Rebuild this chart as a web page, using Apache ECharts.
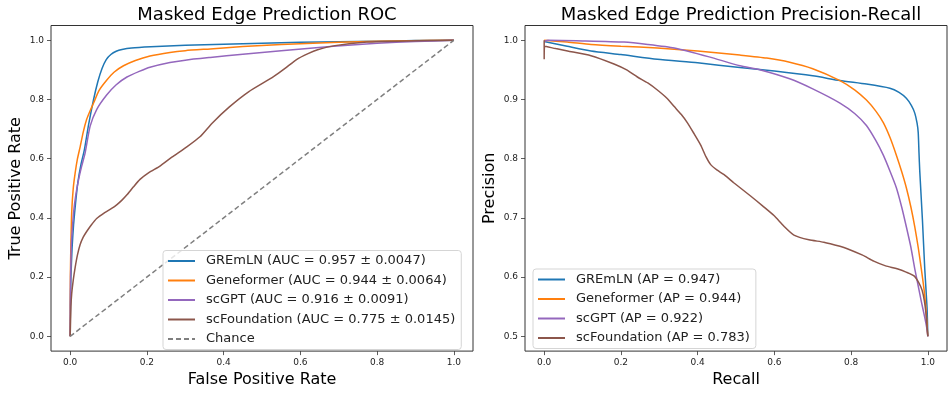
<!DOCTYPE html>
<html>
<head>
<meta charset="utf-8">
<title>Masked Edge Prediction</title>
<script src="https://cdn.jsdelivr.net/npm/echarts@6/dist/echarts.min.js"></script>
<style>
  html, body { margin: 0; padding: 0; background: #fff; }
  #chart { width: 948px; height: 393px; }
</style>
</head>
<body>
<div id="chart"></div>
<script>
// ROC curves, [false positive rate, true positive rate]
const gremlnRoc = [[0,0],[0.0005,0.1],[0.002,0.2],[0.005,0.3],[0.009,0.38],[0.014,0.45],[0.02,0.52],[0.028,0.58],[0.037,0.63],[0.048,0.715],[0.061,0.8],[0.072,0.86],[0.083,0.905],[0.094,0.935],[0.106,0.952],[0.12,0.963],[0.135,0.969],[0.16,0.974],[0.21,0.978],[0.3,0.983],[0.4,0.987],[0.5,0.99],[0.6,0.993],[0.7,0.995],[0.8,0.997],[0.9,0.999],[1,1]];
const geneformerRoc = [[0,0],[0.0005,0.2],[0.002,0.32],[0.004,0.42],[0.008,0.5],[0.013,0.552],[0.019,0.6],[0.026,0.64],[0.034,0.69],[0.043,0.733],[0.052,0.762],[0.061,0.788],[0.075,0.83],[0.095,0.865],[0.115,0.893],[0.139,0.914],[0.17,0.932],[0.208,0.947],[0.26,0.959],[0.3,0.965],[0.365,0.971],[0.45,0.979],[0.55,0.986],[0.65,0.991],[0.75,0.995],[0.85,0.998],[1,1]];
const scgptRoc = [[0,0],[0.0005,0.15],[0.001,0.2],[0.003,0.31],[0.006,0.37],[0.009,0.42],[0.015,0.48],[0.022,0.53],[0.03,0.575],[0.039,0.62],[0.052,0.71],[0.069,0.766],[0.095,0.815],[0.12,0.85],[0.148,0.876],[0.18,0.895],[0.208,0.909],[0.26,0.925],[0.3,0.933],[0.365,0.942],[0.45,0.953],[0.55,0.965],[0.686,0.98],[0.8,0.99],[0.9,0.996],[1,1]];
const scfoundationRoc = [[0,0],[0.002,0.1],[0.004,0.145],[0.008,0.19],[0.013,0.233],[0.019,0.275],[0.026,0.31],[0.034,0.335],[0.043,0.354],[0.055,0.376],[0.069,0.398],[0.09,0.418],[0.108,0.432],[0.122,0.445],[0.135,0.46],[0.148,0.478],[0.165,0.505],[0.182,0.53],[0.205,0.553],[0.234,0.575],[0.265,0.605],[0.304,0.64],[0.339,0.675],[0.37,0.72],[0.415,0.775],[0.465,0.826],[0.53,0.877],[0.56,0.905],[0.59,0.935],[0.62,0.955],[0.645,0.968],[0.69,0.982],[0.773,0.994],[0.88,0.998],[1,1]];
const chanceRoc = [[0,0],[1,1]];

// PR curves, [recall, precision]
const gremlnPr = [[0,0.998],[0.06,0.99],[0.122,0.982],[0.2,0.976],[0.295,0.968],[0.4,0.962],[0.51,0.954],[0.6,0.948],[0.7,0.94],[0.771,0.932],[0.84,0.926],[0.901,0.919],[0.925,0.912],[0.944,0.902],[0.957,0.89],[0.966,0.877],[0.972,0.86],[0.975,0.844],[0.977,0.81],[0.979,0.779],[0.986,0.696],[0.992,0.614],[0.998,0.548],[1,0.5]];
const geneformerPr = [[0,1],[0.06,0.997],[0.122,0.993],[0.2,0.99],[0.295,0.987],[0.4,0.982],[0.51,0.975],[0.58,0.97],[0.64,0.963],[0.7,0.952],[0.771,0.932],[0.81,0.916],[0.84,0.899],[0.865,0.88],[0.884,0.861],[0.902,0.835],[0.918,0.806],[0.932,0.778],[0.944,0.751],[0.956,0.718],[0.966,0.685],[0.975,0.65],[0.983,0.614],[0.99,0.58],[0.995,0.548],[1,0.5]];
const scgptPr = [[0,0.998],[0.01,1],[0.1,0.999],[0.208,0.997],[0.27,0.993],[0.339,0.987],[0.43,0.972],[0.51,0.957],[0.564,0.95],[0.64,0.935],[0.7,0.918],[0.771,0.894],[0.81,0.876],[0.84,0.856],[0.865,0.83],[0.884,0.806],[0.902,0.778],[0.918,0.751],[0.932,0.718],[0.944,0.685],[0.956,0.65],[0.966,0.614],[0.975,0.585],[0.983,0.559],[0.991,0.535],[0.997,0.515],[1,0.5]];
const scfoundationPr = [[0,1],[0,0.968],[0.001,0.99],[0.03,0.986],[0.061,0.982],[0.122,0.974],[0.182,0.96],[0.215,0.95],[0.243,0.938],[0.27,0.928],[0.295,0.916],[0.32,0.902],[0.339,0.888],[0.357,0.875],[0.373,0.861],[0.39,0.843],[0.408,0.823],[0.422,0.803],[0.434,0.79],[0.45,0.781],[0.469,0.773],[0.495,0.759],[0.538,0.737],[0.57,0.72],[0.599,0.704],[0.625,0.686],[0.651,0.671],[0.69,0.663],[0.729,0.659],[0.771,0.652],[0.79,0.648],[0.83,0.637],[0.859,0.627],[0.89,0.619],[0.92,0.614],[0.945,0.608],[0.964,0.602],[0.977,0.59],[0.985,0.578],[0.991,0.56],[0.995,0.54],[0.998,0.515],[1,0.5]];

const rocNames = ["GREmLN (AUC = 0.957 ± 0.0047)", "Geneformer (AUC = 0.944 ± 0.0064)", "scGPT (AUC = 0.916 ± 0.0091)", "scFoundation (AUC = 0.775 ± 0.0145)", "Chance"];
const prNames = ["GREmLN (AP = 0.947)", "Geneformer (AP = 0.944)", "scGPT (AP = 0.922)", "scFoundation (AP = 0.783)"];
const rateTicks = [0, 0.2, 0.4, 0.6, 0.8, 1.0];
const precisionTicks = [0.5, 0.6, 0.7, 0.8, 0.9, 1.0];
const colors = ["#1f77b4", "#ff7f0e", "#9467bd", "#8c564b", "#7f7f7f"];

const font = "DejaVu Sans";
const chart = echarts.init(document.getElementById("chart"));

function valueAxis(gridIndex, min, max, ticks, name, isY) {
  return {
    type: "value",
    gridIndex: gridIndex,
    min: min,
    max: max,
    name: name,
    nameLocation: "middle",
    nameGap: isY ? 27 : 18,
    nameRotate: isY ? 90 : 0,
    nameTextStyle: { fontFamily: font, fontSize: 16, color: "#000" },
    axisLine: { show: false, onZero: false },
    axisTick: { show: true, length: 4, customValues: ticks, lineStyle: { color: "#333", width: 0.8 } },
    axisLabel: {
      customValues: ticks,
      fontFamily: font,
      fontSize: 9,
      color: "#222",
      margin: 7,
      formatter: v => v.toFixed(1)
    },
    splitLine: { show: false }
  };
}

function curve(name, data, color, xi, dashed) {
  return {
    name: name,
    type: "line",
    xAxisIndex: xi,
    yAxisIndex: xi,
    data: data,
    symbol: "none",
    smooth: 0.2,
    lineStyle: { color: color, width: 1.5, type: dashed ? [5, 3] : "solid" },
    itemStyle: { color: color },
    silent: true
  };
}

// legend keys are plain line samples, so the symbol is hidden
const legendBase = {
  orient: "vertical",
  itemWidth: 27,
  itemHeight: 10,
  itemGap: 4.5,
  padding: [3, 6, 3, 4],
  borderColor: "#d5d5d5",
  borderWidth: 1,
  borderRadius: 3,
  backgroundColor: "rgba(255,255,255,0.8)",
  itemStyle: { opacity: 0 },
  textStyle: { fontFamily: font, fontSize: 13, color: "#222", lineHeight: 15, padding: [0, 0, 0, 6] }
};

chart.setOption({
  animation: false,
  title: [
    { text: "Masked Edge Prediction ROC", left: 262, top: 1, textAlign: "center",
      textStyle: { fontFamily: font, fontSize: 18, fontWeight: "normal", color: "#000" } },
    { text: "Masked Edge Prediction Precision-Recall", left: 736, top: 1, textAlign: "center",
      textStyle: { fontFamily: font, fontSize: 18, fontWeight: "normal", color: "#000" } }
  ],
  grid: [
    { left: 51, top: 25.5, width: 422, height: 333.7, show: true, borderColor: "#333", borderWidth: 1 },
    { left: 525, top: 25.5, width: 422, height: 333.7, show: true, borderColor: "#333", borderWidth: 1 }
  ],
  xAxis: [
    valueAxis(0, -0.05, 1.05, rateTicks, "False Positive Rate", false),
    valueAxis(1, -0.05, 1.05, rateTicks, "Recall", false)
  ],
  yAxis: [
    valueAxis(0, -0.05, 1.05, rateTicks, "True Positive Rate", true),
    valueAxis(1, 0.475, 1.025, precisionTicks, "Precision", true)
  ],
  legend: [
    Object.assign({}, legendBase, { left: 163, top: 250.5, data: rocNames }),
    Object.assign({}, legendBase, { left: 533, top: 269, data: prNames })
  ],
  series: [
    curve(rocNames[0], gremlnRoc, colors[0], 0),
    curve(rocNames[1], geneformerRoc, colors[1], 0),
    curve(rocNames[2], scgptRoc, colors[2], 0),
    curve(rocNames[3], scfoundationRoc, colors[3], 0),
    curve(rocNames[4], chanceRoc, colors[4], 0, true),
    curve(prNames[0], gremlnPr, colors[0], 1),
    curve(prNames[1], geneformerPr, colors[1], 1),
    curve(prNames[2], scgptPr, colors[2], 1),
    curve(prNames[3], scfoundationPr, colors[3], 1)
  ]
});
</script>
</body>
</html>
